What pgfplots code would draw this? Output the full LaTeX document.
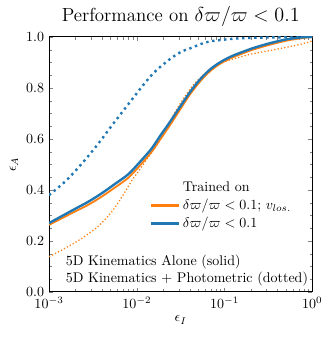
\documentclass[border=0pt]{standalone}
\usepackage{pgfplots}
\pgfplotsset{compat=1.18}
\definecolor{tabblue}{RGB}{31,119,180}
\definecolor{taborange}{RGB}{255,127,14}
\begin{document}
\begin{tikzpicture}
\begin{axis}[
  scale only axis,
  width=188pt, height=182pt,
  xmode=log,
  xmin=1e-3, xmax=1,
  ymin=0, ymax=1,
  ytick={0,0.2,0.4,0.6,0.8,1.0},
  minor y tick num=3,
  yticklabel style={/pgf/number format/fixed, /pgf/number format/precision=1, /pgf/number format/fixed zerofill},
  tick align=inside,
  major tick length=3pt,
  minor tick length=1.8pt,
  axis line style={line width=0.7pt},
  xlabel={$\epsilon_I$},
  ylabel={$\epsilon_A$},
  xlabel style={at={(axis description cs:0.5,-0.11)}, anchor=center},
  ylabel style={at={(axis description cs:-0.133,0.5)}, anchor=center},
  title={Performance on $\delta\varpi/\varpi < 0.1$},
  every axis title shift=0pt,
  title style={font=\fontsize{13.5}{16}\selectfont, at={(axis description cs:0.5,1.082)}, anchor=center},
  legend cell align=left,
  legend style={draw=none, fill=none, at={(rel axis cs:0.365,0.455)}, anchor=north west, row sep=0pt},
]
% dotted: kinematics + photometric
\addplot[taborange, line width=0.9pt, dash pattern=on 0.9pt off 1.5pt, smooth, forget plot] coordinates {
(0.001,0.138) (0.00152,0.171) (0.00236,0.21) (0.00365,0.258) (0.00519,0.315)
(0.00675,0.372) (0.00877,0.437) (0.0104,0.472) (0.01245,0.511) (0.0201,0.616)
(0.0261,0.694) (0.034,0.759) (0.0442,0.812) (0.0574,0.852) (0.0746,0.882)
(0.0971,0.901) (0.126,0.914) (0.1507,0.922) (0.2135,0.935) (0.331,0.947)
(0.513,0.960) (0.75,0.972) (1,0.985)
};
\addplot[tabblue, line width=1.7pt, dash pattern=on 1.7pt off 2.6pt, smooth, forget plot] coordinates {
(0.001,0.38) (0.00155,0.435) (0.00236,0.503) (0.00352,0.575) (0.00513,0.65)
(0.00755,0.725) (0.01119,0.801) (0.01418,0.844) (0.0169,0.871) (0.0201,0.893)
(0.024,0.914) (0.0286,0.932) (0.034,0.946) (0.0424,0.958) (0.0504,0.969)
(0.0601,0.978) (0.0716,0.984) (0.0891,0.988) (0.1159,0.992) (0.1507,0.995)
(0.3,0.998) (1,1.0)
};

% solid: kinematics alone
\addplot[taborange, line width=1.3pt, smooth, forget plot] coordinates {
(0.001,0.263) (0.00189,0.312) (0.00281,0.342) (0.00399,0.374) (0.00566,0.41)
(0.00802,0.448) (0.011,0.498) (0.0148,0.55) (0.01845,0.598) (0.024,0.655)
(0.0312,0.716) (0.0406,0.776) (0.0527,0.826) (0.0685,0.866) (0.0891,0.895)
(0.1159,0.916) (0.1507,0.932) (0.214,0.951) (0.331,0.97) (0.513,0.986)
(0.787,0.996) (1,1.0)
};
\addplot[tabblue, line width=1.7pt, smooth, forget plot] coordinates {
(0.001,0.27) (0.00189,0.322) (0.00281,0.354) (0.00399,0.387) (0.00566,0.424)
(0.00802,0.462) (0.011,0.512) (0.0148,0.563) (0.01845,0.612) (0.024,0.668)
(0.0312,0.727) (0.0406,0.785) (0.0527,0.834) (0.0685,0.873) (0.0891,0.901)
(0.1159,0.922) (0.1507,0.938) (0.214,0.957) (0.331,0.976) (0.513,0.991)
(0.787,0.999) (1,1.0)
};

\addlegendimage{empty legend}
\addlegendentry{Trained on}
\addlegendimage{legend image code/.code={\draw[taborange, line width=1.5pt] (0pt,0pt) -- (20pt,0pt);}}
\addlegendentry{$\delta\varpi/\varpi < 0.1$; $v_{los.}$}
\addlegendimage{legend image code/.code={\draw[tabblue, line width=1.8pt] (0pt,0pt) -- (20pt,0pt);}}
\addlegendentry{$\delta\varpi/\varpi < 0.1$}

\node[anchor=west] at (rel axis cs:0.045,0.118) {5D Kinematics Alone (solid)};
\node[anchor=west] at (rel axis cs:0.045,0.051) {5D Kinematics + Photometric (dotted)};
\end{axis}
\pgfresetboundingbox
\path[use as bounding box] ([shift={(-35pt,-33.6pt)}]current axis.south west) rectangle ([shift={(13.6pt,26.4pt)}]current axis.north east);
\end{tikzpicture}
\end{document}
